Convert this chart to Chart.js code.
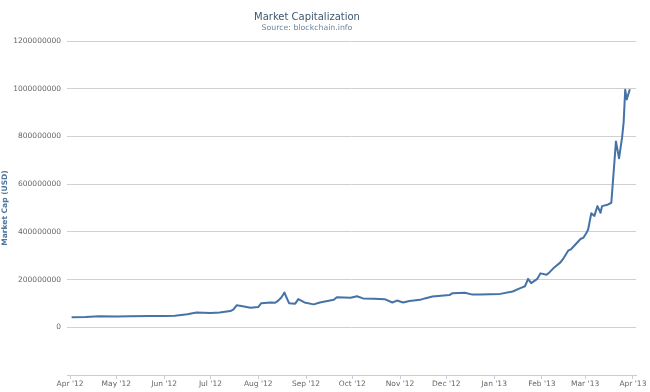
<!DOCTYPE html>
<html lang="en">
<head>
<meta charset="UTF-8">
<title>Market Capitalization</title>
<script src="https://cdn.jsdelivr.net/npm/chart.js"></script>
<style>
    body {
        margin: 0;
        background: #ffffff;
    }
    .wrap {
        position: relative;
        width: 650px;
        height: 392px;
    }
    .head {
        position: absolute;
        left: 0;
        width: 614px;
        text-align: center;
        font-family: 'DejaVu Sans', sans-serif;
    }
    .title {
        top: 11px;
        font-size: 10px;
        line-height: 12px;
        color: #3E576F;
    }
    .subtitle {
        top: 23px;
        font-size: 7.8px;
        line-height: 9px;
        color: #6D869F;
    }
</style>
</head>
<body>
<div class="wrap">
    <canvas id="capChart" width="650" height="392"></canvas>
    <div class="head title">Market Capitalization</div>
    <div class="head subtitle">Source: blockchain.info</div>
</div>

<script>
    // daily samples (market cap in millions of USD)
    const dates = [
        '2012-04-02', '2012-04-11', '2012-04-20', '2012-05-01', '2012-05-10', '2012-05-23',
        '2012-06-01', '2012-06-08', '2012-06-16', '2012-06-22', '2012-07-01', '2012-07-07',
        '2012-07-14', '2012-07-16', '2012-07-18', '2012-07-21', '2012-07-27', '2012-08-01',
        '2012-08-03', '2012-08-09', '2012-08-12', '2012-08-14', '2012-08-16', '2012-08-18',
        '2012-08-19', '2012-08-21', '2012-08-25', '2012-08-27', '2012-08-31', '2012-09-06',
        '2012-09-10', '2012-09-19', '2012-09-21', '2012-09-30', '2012-10-04', '2012-10-08',
        '2012-10-15', '2012-10-22', '2012-10-27', '2012-10-30', '2012-11-03', '2012-11-07',
        '2012-11-14', '2012-11-17', '2012-11-22', '2012-12-03', '2012-12-05', '2012-12-13',
        '2012-12-18', '2012-12-23', '2012-12-29', '2013-01-05', '2013-01-13', '2013-01-18',
        '2013-01-21', '2013-01-23', '2013-01-25', '2013-01-29', '2013-01-31', '2013-02-04',
        '2013-02-06', '2013-02-09', '2013-02-13', '2013-02-15', '2013-02-18', '2013-02-20',
        '2013-02-23', '2013-02-26', '2013-02-28', '2013-03-02', '2013-03-03', '2013-03-05',
        '2013-03-07', '2013-03-09', '2013-03-11', '2013-03-12', '2013-03-16', '2013-03-18',
        '2013-03-21', '2013-03-23', '2013-03-25', '2013-03-26', '2013-03-27', '2013-03-28',
        '2013-03-30'
    ];
    const marketCapMillions = [
        42, 43, 46, 45, 46, 47,
        47, 48, 55, 62, 60, 62,
        68, 75, 92, 89, 82, 85,
        101, 104, 103, 112, 125, 146,
        130, 101, 99, 118, 104, 96,
        104, 115, 126, 124, 130, 121,
        120, 118, 104, 112, 104, 110,
        115, 121, 129, 135, 143, 145,
        137, 137, 138, 140, 150, 164,
        172, 203, 185, 203, 226, 220,
        231, 251, 272, 289, 321, 328,
        349, 370, 376, 397, 411, 478,
        467, 508, 480, 508, 515, 522,
        779, 708, 797, 860, 996, 955,
        998
    ];

    const tickDates = [
        '2012-04-01', '2012-05-01', '2012-06-01', '2012-07-01', '2012-08-01', '2012-09-01', '2012-10-01',
        '2012-11-01', '2012-12-01', '2013-01-01', '2013-02-01', '2013-03-01', '2013-04-01'
    ];
    const tickLabels = [
        "Apr '12", "May '12", "Jun '12", "Jul '12", "Aug '12", "Sep '12", "Oct '12",
        "Nov '12", "Dec '12", "Jan '13", "Feb '13", "Mar '13", "Apr '13"
    ];

    const startDay = Date.parse('2012-04-01');
    function dayIndex(d) {
        return (Date.parse(d) - startDay) / 86400000;
    }

    const points = dates.map((d, i) => ({ x: dayIndex(d), y: marketCapMillions[i] * 1000000 }));

    const labelFont = { family: 'DejaVu Sans', size: 7.5 };

    new Chart(document.getElementById('capChart'), {
        type: 'line',
        data: {
            datasets: [{
                label: 'Market Cap',
                data: points,
                borderColor: '#4572A7',
                borderWidth: 2,
                borderJoinStyle: 'round',
                pointRadius: 0,
                tension: 0,
                fill: false
            }]
        },
        options: {
            responsive: false,
            animation: false,
            layout: {
                padding: { top: 41, right: 14, left: 1, bottom: 0 }
            },
            plugins: {
                legend: { display: false },
                tooltip: { enabled: false },
                title: { display: false }
            },
            scales: {
                x: {
                    type: 'linear',
                    min: -2,
                    max: 367,
                    afterBuildTicks: (scale) => {
                        scale.ticks = tickDates.map(d => ({ value: dayIndex(d) }));
                    },
                    afterFit: (scale) => {
                        scale.height = 17;
                    },
                    grid: {
                        drawOnChartArea: false,
                        drawTicks: true,
                        tickLength: 4,
                        color: '#C0D0E0'
                    },
                    border: { display: true, color: '#C0D0E0' },
                    ticks: {
                        autoSkip: false,
                        maxRotation: 0,
                        padding: 1,
                        color: '#666666',
                        font: labelFont,
                        callback: (value, index) => tickLabels[index]
                    }
                },
                y: {
                    min: -200000000,
                    max: 1200000000,
                    afterFit: (scale) => {
                        scale.width = 66;
                    },
                    grid: {
                        drawTicks: false,
                        color: (ctx) => (ctx.tick && ctx.tick.value < 0) ? 'rgba(0,0,0,0)' : '#D0D0D0'
                    },
                    border: { display: false },
                    ticks: {
                        stepSize: 200000000,
                        padding: 6,
                        color: '#666666',
                        font: labelFont,
                        callback: (v) => v < 0 ? '' : String(v)
                    },
                    title: {
                        display: true,
                        text: 'Market Cap (USD)',
                        color: '#4d759e',
                        font: { family: 'DejaVu Sans', size: 7.5, weight: 'bold' },
                        padding: { top: 0, bottom: 0 }
                    }
                }
            }
        }
    });
</script>
</body>
</html>
